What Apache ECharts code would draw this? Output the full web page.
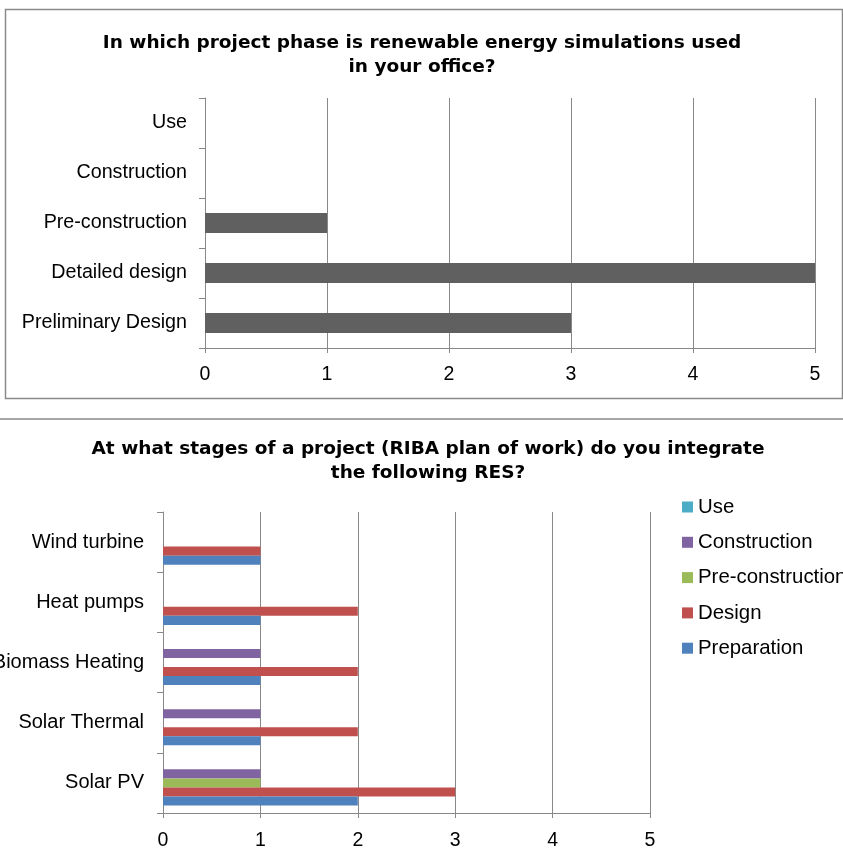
<!DOCTYPE html>
<html>
<head>
<meta charset="utf-8">
<script src="https://cdn.jsdelivr.net/npm/echarts@6/dist/echarts.min.js"></script>
<style>
html,body{margin:0;padding:0;background:#fff;}
#chart{width:843px;height:859px;}
</style>
</head>
<body>
<div id="chart"></div>
<script>
// Top chart data
const phaseCategories = ['Preliminary Design', 'Detailed design', 'Pre-construction', 'Construction', 'Use'];
const phaseValues = [3, 5, 1, 0, 0];

// Bottom chart data
const resCategories = ['Solar PV', 'Solar Thermal', 'Biomass Heating', 'Heat pumps', 'Wind turbine'];
const seriesNames = ['Use', 'Construction', 'Pre-construction', 'Design', 'Preparation'];
const useValues = [0, 0, 0, 0, 0];
const constructionValues = [1, 1, 1, 0, 0];
const preconstructionValues = [1, 0, 0, 0, 0];
const designValues = [3, 2, 2, 2, 1];
const preparationValues = [2, 1, 1, 1, 1];

const valueTicks = [0, 1, 2, 3, 4, 5];

const seriesColors = ['#4BACC6', '#8064A2', '#9BBB59', '#C0504D', '#4F81BD'];
const seriesData = [useValues, constructionValues, preconstructionValues, designValues, preparationValues];

const FONT = 'Liberation Sans, Arial, sans-serif';
const GRID_COLOR = '#888888';

const chart = echarts.init(document.getElementById('chart'), null, {renderer: 'canvas'});

function valueAxis(gridIndex, fontSize, margin) {
  return {
    type: 'value', gridIndex: gridIndex,
    min: valueTicks[0], max: valueTicks[valueTicks.length - 1], interval: 1,
    axisLine: {show: true, lineStyle: {color: GRID_COLOR, width: 1}},
    axisTick: {show: true, length: 5, lineStyle: {color: GRID_COLOR}},
    splitLine: {show: true, lineStyle: {color: GRID_COLOR, width: 1}},
    axisLabel: {color: '#000', fontFamily: FONT, fontSize: fontSize, margin: margin}
  };
}
function catAxis(gridIndex, data, fontSize, margin) {
  return {
    type: 'category', gridIndex: gridIndex, data: data,
    axisLine: {show: true, lineStyle: {color: GRID_COLOR, width: 1}},
    axisTick: {show: true, length: 6, lineStyle: {color: GRID_COLOR}},
    splitLine: {show: false},
    axisLabel: {color: '#000', fontFamily: FONT, fontSize: fontSize, margin: margin}
  };
}

const bottomSeries = seriesNames.map((name, i) => ({
  name: name, type: 'bar', xAxisIndex: 1, yAxisIndex: 1,
  data: seriesData[i],
  itemStyle: {color: seriesColors[i]},
  barGap: '0%', barCategoryGap: '25%'
}));

chart.setOption({
  animation: false,
  backgroundColor: '#fff',
  title: [
    {
      text: 'In which project phase is renewable energy simulations used\nin your office?',
      left: 422, top: 31, padding: 0, textAlign: 'center',
      textStyle: {fontFamily: 'DejaVu Sans', fontWeight: 'bold', fontSize: 18.5, lineHeight: 24, color: '#000'}
    },
    {
      text: 'At what stages of a project (RIBA plan of work) do you integrate\nthe following RES?',
      left: 428, top: 437, padding: 0, textAlign: 'center',
      textStyle: {fontFamily: 'DejaVu Sans', fontWeight: 'bold', fontSize: 18.5, lineHeight: 24, color: '#000'}
    }
  ],
  legend: {
    orient: 'vertical', left: 682, top: 497, padding: 0,
    itemWidth: 11, itemHeight: 11, itemGap: 15.3,
    data: seriesNames,
    icon: 'rect',
    textStyle: {fontFamily: FONT, fontSize: 20.4, color: '#000', lineHeight: 20}
  },
  grid: [
    {left: 205, top: 98, width: 610, height: 250, containLabel: false, outerBoundsMode: 'none'},
    {left: 163, top: 512, width: 487, height: 301, containLabel: false, outerBoundsMode: 'none'}
  ],
  xAxis: [valueAxis(0, 19.5, 17), valueAxis(1, 19.5, 18)],
  yAxis: [catAxis(0, phaseCategories, 19.7, 18), catAxis(1, resCategories, 20, 19)],
  series: [
    {
      name: 'Phase', type: 'bar', xAxisIndex: 0, yAxisIndex: 0,
      data: phaseValues, barWidth: 20,
      itemStyle: {color: '#606060'}
    }
  ].concat(bottomSeries),
  graphic: [
    {type: 'rect', shape: {x: 5.5, y: 9.5, width: 837, height: 389}, style: {fill: 'none', stroke: '#8a8a8a', lineWidth: 1.5}, silent: true, z: -1},
    {type: 'line', shape: {x1: 0, y1: 419, x2: 843, y2: 419}, style: {stroke: '#a6a6a6', lineWidth: 2}, silent: true}
  ]
});
</script>
</body>
</html>
